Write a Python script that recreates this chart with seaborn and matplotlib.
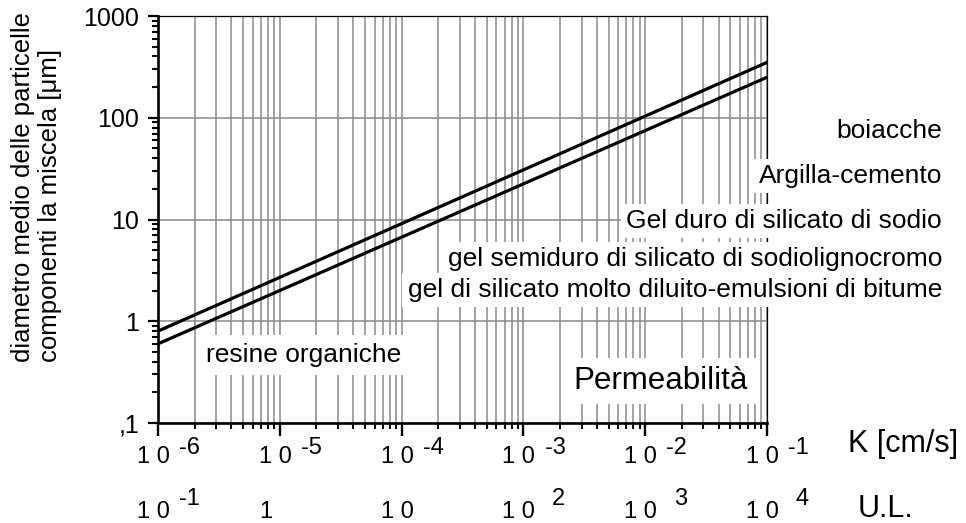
import numpy as np
import pandas as pd
import matplotlib
matplotlib.use("Agg")
import matplotlib.pyplot as plt
import matplotlib.transforms as mtransforms
from matplotlib.ticker import LogLocator, NullFormatter, FixedLocator
import seaborn as sns

# ---------------- data ----------------
k_ends = [1e-6, 1e-1]                 # permeability K [cm/s] at the two ends
upper_d = [0.80, 350.0]               # upper limit line, particle diameter [um]
lower_d = [0.60, 250.0]               # lower limit line, particle diameter [um]

k_major = [1e-6, 1e-5, 1e-4, 1e-3, 1e-2, 1e-1]
k_bases = ["1 0", "1 0", "1 0", "1 0", "1 0", "1 0"]
k_exps = ["-6", "-5", "-4", "-3", "-2", "-1"]
ul_bases = ["1 0", "1", "1 0", "1 0", "1 0", "1 0"]
ul_exps = ["-1", "", "", "2", "3", "4"]

y_ticks = [0.1, 1, 10, 100, 1000]
y_ticklabels = [",1", "1", "10", "100", "1000"]

zone_labels = ["boiacche",
               "Argilla-cemento",
               "Gel duro di silicato di sodio",
               "gel semiduro di silicato di sodiolignocromo",
               "gel di silicato molto diluito-emulsioni di bitume"]
resine_label = "resine organiche"
perm_label = "Permeabilità"
ylabel_text = "diametro medio delle particelle\ncomponenti la miscela [μm]"

# ---------------- style ----------------
sns.set_theme(style="white")
plt.rcParams["font.family"] = ["Liberation Sans", "DejaVu Sans"]
plt.rcParams["xtick.bottom"] = True
plt.rcParams["ytick.left"] = True

W, H = 966, 523
fig = plt.figure(figsize=(W / 100, H / 100), dpi=100)
ax = fig.add_axes([158 / W, 1 - 423 / H, 609 / W, 407 / H])

df = pd.DataFrame({
    "K": k_ends + k_ends,
    "d": upper_d + lower_d,
    "line": ["upper"] * 2 + ["lower"] * 2,
})
sns.lineplot(data=df, x="K", y="d", units="line", estimator=None,
             color="black", lw=2.3, ax=ax, legend=False, zorder=3)

ax.set_xscale("log")
ax.set_yscale("log")
ax.set_xlim(k_major[0], k_major[-1])
ax.set_ylim(y_ticks[0], y_ticks[-1])
ax.set_xlabel("")
ax.set_ylabel("")

ax.xaxis.set_major_locator(FixedLocator(k_major))
ax.xaxis.set_minor_locator(LogLocator(base=10, subs=range(2, 10), numticks=50))
ax.xaxis.set_major_formatter(NullFormatter())
ax.xaxis.set_minor_formatter(NullFormatter())
ax.yaxis.set_major_locator(FixedLocator(y_ticks))
ax.yaxis.set_minor_locator(LogLocator(base=10, subs=range(2, 10), numticks=50))
ax.yaxis.set_minor_formatter(NullFormatter())
ax.set_yticklabels(y_ticklabels, fontsize=18, color="black")

gcol = "#8a8a8a"
ax.grid(False)
ax.grid(True, which="both", axis="x", color=gcol, lw=1.1)
ax.grid(True, which="major", axis="y", color=gcol, lw=1.1)
ax.set_axisbelow(True)

for s in ["left", "bottom"]:
    ax.spines[s].set_linewidth(1.9)
    ax.spines[s].set_color("black")
for s in ["top", "right"]:
    ax.spines[s].set_linewidth(0.9)
    ax.spines[s].set_color("black")

ax.tick_params(axis="both", which="both", direction="out", color="black",
               bottom=True, left=True, top=False, right=False)
ax.tick_params(axis="y", which="major", length=7.5, width=1.6, pad=6)
ax.tick_params(axis="y", which="minor", length=4, width=1.5)
ax.tick_params(axis="x", which="major", length=9, width=1.7)
ax.tick_params(axis="x", which="minor", length=4, width=1.5)

# ---------------- custom x tick labels ----------------
blend = mtransforms.blended_transform_factory(ax.transData, ax.transAxes)


def off(dx, dy):
    return blend + mtransforms.ScaledTranslation(dx / 100, dy / 100, fig.dpi_scale_trans)


for k, b, e in zip(k_major, k_bases, k_exps):
    ax.text(k, 0, b, transform=off(-21, -40), ha="left", va="baseline",
            fontsize=17, color="black", clip_on=False)
    ax.text(k, 0, e, transform=off(42, -31), ha="right", va="baseline",
            fontsize=17, color="black", clip_on=False)
for k, b, e in zip(k_major, ul_bases, ul_exps):
    ax.text(k, 0, b, transform=off(-21, -95), ha="left", va="baseline",
            fontsize=17, color="black", clip_on=False)
    if e:
        ax.text(k, 0, e, transform=off(42, -82), ha="right", va="baseline",
                fontsize=17, color="black", clip_on=False)

fig.text(848 / W, 1 - 452 / H, "K [cm/s]", ha="left", va="baseline",
         fontsize=22, color="black")
fig.text(858 / W, 1 - 517 / H, "U.L.", ha="left", va="baseline",
         fontsize=22, color="black")

# ---------------- y label ----------------
fig.text(11 / W, 1 - 362 / H, ylabel_text, rotation=90, ha="left", va="bottom",
         multialignment="left", fontsize=18.5, linespacing=1.15, color="black")

# ---------------- zone labels ----------------
def ax_y(py):
    return (423 - py) / 407


def ax_x(px):
    return (px - 158) / 609


box = dict(boxstyle="square,pad=0.2", fc="white", ec="none")
zone_baselines = [138, 183, 228, 266, 297]
for lab, py in zip(zone_labels, zone_baselines):
    ax.text(ax_x(942), ax_y(py), lab, transform=ax.transAxes, ha="right",
            va="baseline", fontsize=19, color="black", bbox=box,
            clip_on=False, zorder=5)

ax.text(ax_x(206), ax_y(362), resine_label, transform=ax.transAxes, ha="left",
        va="baseline", fontsize=19, color="black",
        bbox=dict(boxstyle="square,pad=0.3", fc="white", ec="none"), zorder=5)
ax.text(ax_x(748), ax_y(389), perm_label, transform=ax.transAxes, ha="right",
        va="baseline", fontsize=22.5, color="black",
        bbox=dict(boxstyle="square,pad=0.25", fc="white", ec="none"), zorder=5)

fig.savefig("out.png", dpi=100)
